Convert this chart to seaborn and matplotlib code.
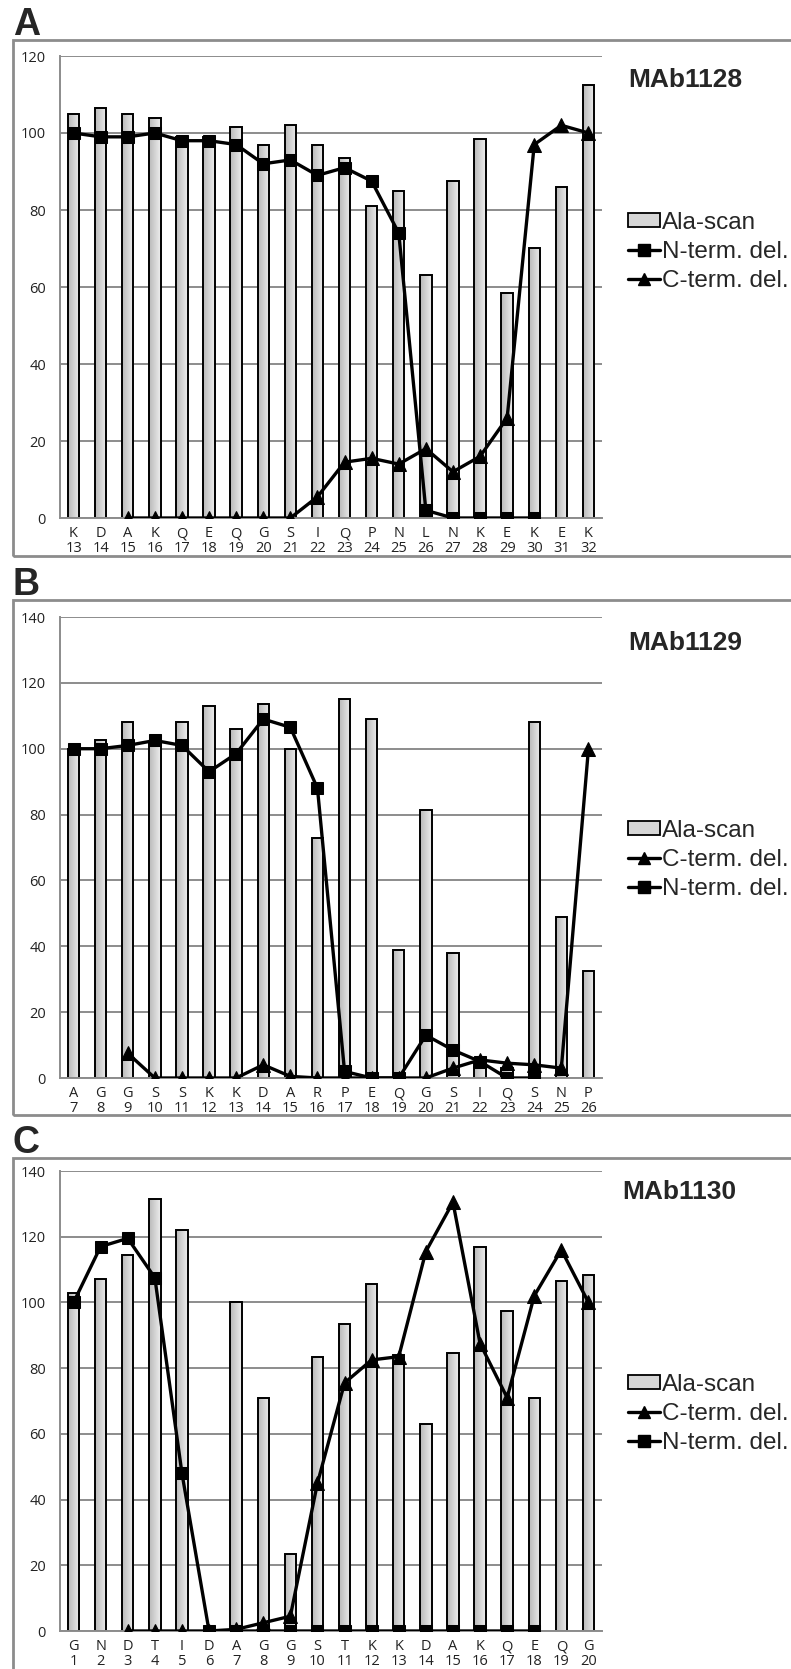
import numpy as np
import pandas as pd
import seaborn as sns
import matplotlib.pyplot as plt
from matplotlib.colors import LinearSegmentedColormap
from matplotlib.patches import Rectangle, Patch
from matplotlib.lines import Line2D

nan = np.nan

# panel A - MAb1128
a_res = ['K', 'D', 'A', 'K', 'Q', 'E', 'Q', 'G', 'S', 'I', 'Q', 'P', 'N', 'L', 'N', 'K', 'E', 'K', 'E', 'K']
a_num = ['13', '14', '15', '16', '17', '18', '19', '20', '21', '22', '23', '24', '25', '26', '27', '28', '29', '30', '31', '32']
a_ala = [105, 106.5, 105, 104, 99, 99, 101.5, 97, 102, 97, 93.5, 81, 85, 63, 87.5, 98.5, 58.5, 70, 86, 112.5]
a_nterm = [100, 99, 99, 100, 98, 98, 97, 92, 93, 89, 91, 87.5, 74, 2, 0, 0, 0, 0, nan, nan]
a_cterm = [nan, nan, 0, 0, 0, 0, 0, 0, 0, 5.5, 14.5, 15.5, 14, 18, 12, 16, 26, 97, 102, 100]

# panel B - MAb1129
b_res = ['A', 'G', 'G', 'S', 'S', 'K', 'K', 'D', 'A', 'R', 'P', 'E', 'Q', 'G', 'S', 'I', 'Q', 'S', 'N', 'P']
b_num = ['7', '8', '9', '10', '11', '12', '13', '14', '15', '16', '17', '18', '19', '20', '21', '22', '23', '24', '25', '26']
b_ala = [100, 102.5, 108, 102, 108, 113, 106, 113.5, 100, 73, 115, 109, 39, 81.5, 38, 5, 3, 108, 49, 32.5]
b_nterm = [100, 100, 101, 102.5, 101, 93, 98.5, 109, 106.5, 88, 2, 0, 0, 13, 8.5, 5, 0, 0, nan, nan]
b_cterm = [nan, nan, 7.5, 0, 0, 0, 0, 4, 0.5, 0, 0, 0, 0, 0, 3, 5.5, 4.5, 4, 3, 100]

# panel C - MAb1130
c_res = ['G', 'N', 'D', 'T', 'I', 'D', 'A', 'G', 'G', 'S', 'T', 'K', 'K', 'D', 'A', 'K', 'Q', 'E', 'Q', 'G']
c_num = ['1', '2', '3', '4', '5', '6', '7', '8', '9', '10', '11', '12', '13', '14', '15', '16', '17', '18', '19', '20']
c_ala = [103, 107, 114.5, 131.5, 122, 0, 100, 71, 23.5, 83.5, 93.5, 105.5, 84, 63, 84.5, 117, 97.5, 71, 106.5, 108.5]
c_nterm = [100, 117, 119.5, 107.5, 48, 0, 0, 0, 0, 0, 0, 0, 0, 0, 0, 0, 0, 0, nan, nan]
c_cterm = [nan, nan, 0, 0, 0, 0, 0.5, 2.5, 4.5, 45, 75.5, 82.5, 83.5, 115.5, 130.5, 87.5, 71, 102, 116, 100]

sns.set_style('white')
plt.rcParams['font.family'] = ['Liberation Sans', 'DejaVu Sans']

W, H = 791, 1669
fig = plt.figure(figsize=(W / 100, H / 100), dpi=100)

GRAY = '#8c8c8c'
grad_cmap = LinearSegmentedColormap.from_list('bar', ['#b9b9b9', '#eeeeee'])
grad = np.linspace(0, 1, 64).reshape(1, -1)


def fx(px):
    return px / W


def fy(py):
    return 1 - py / H


panels = [
    dict(letter='A', title='MAb1128', res=a_res, num=a_num, ala=a_ala, nterm=a_nterm, cterm=a_cterm,
         top=56, bot=518, ymax=120, box=(40, 556), let_y=35, title_xy=(628, 87), leg_y=252,
         order=['ala', 'nterm', 'cterm']),
    dict(letter='B', title='MAb1129', res=b_res, num=b_num, ala=b_ala, nterm=b_nterm, cterm=b_cterm,
         top=617, bot=1078, ymax=140, box=(600, 1115), let_y=595, title_xy=(628, 650), leg_y=860,
         order=['ala', 'cterm', 'nterm']),
    dict(letter='C', title='MAb1130', res=c_res, num=c_num, ala=c_ala, nterm=c_nterm, cterm=c_cterm,
         top=1171, bot=1631, ymax=140, box=(1158, 1720), let_y=1153, title_xy=(622, 1199), leg_y=1414,
         order=['ala', 'cterm', 'nterm']),
]

for p in panels:
    # grey frame round the panel
    fig.patches.append(Rectangle((fx(13), fy(p['box'][1])), 1.0, (p['box'][1] - p['box'][0]) / H,
                                 transform=fig.transFigure, fill=False, edgecolor=GRAY, linewidth=2))
    fig.text(fx(13), fy(p['let_y']), p['letter'], fontsize=27, fontweight='bold', va='baseline')
    fig.text(fx(p['title_xy'][0]), fy(p['title_xy'][1]), p['title'], fontsize=19, fontweight='bold',
             va='baseline')

    ax = fig.add_axes([fx(60), fy(p['bot']), 542 / W, (p['bot'] - p['top']) / H])
    labels = [r + '\n' + n for r, n in zip(p['res'], p['num'])]
    df = pd.DataFrame({'label': labels, 'ala': p['ala'], 'nterm': p['nterm'], 'cterm': p['cterm']})
    df['x'] = np.arange(len(df))

    sns.barplot(data=df, x='label', y='ala', order=labels, ax=ax, width=0.42, color='#dddddd',
                edgecolor='black', linewidth=1.4, saturation=1)
    for bar in list(ax.patches):
        x0, y0, w, h = bar.get_x(), bar.get_y(), bar.get_width(), bar.get_height()
        if h <= 0:
            continue
        ax.imshow(grad, extent=[x0, x0 + w, y0, y0 + h], aspect='auto', cmap=grad_cmap,
                  zorder=2, interpolation='bicubic')
        bar.set_facecolor('none')
        bar.set_zorder(2.2)

    sns.lineplot(data=df, x='x', y='nterm', ax=ax, color='black', linewidth=2.4, marker='s',
                 markersize=9, markeredgecolor='black', estimator=None, sort=False, zorder=4)
    sns.lineplot(data=df, x='x', y='cterm', ax=ax, color='black', linewidth=2.4, marker='^',
                 markersize=10.5, markeredgecolor='black', estimator=None, sort=False, zorder=4)

    ax.set_xlim(-0.5, len(df) - 0.5)
    ax.set_ylim(0, p['ymax'])
    ax.set_yticks(np.arange(0, p['ymax'] + 1, 20))
    ax.set_xticks(df['x'])
    ax.set_xticklabels(labels, fontsize=10.5, family='Open Sans', linespacing=0.95, color='#222222')
    ax.set_xticks(np.arange(-0.5, len(df)), minor=True)
    ax.tick_params(axis='x', which='major', length=0, pad=6)
    ax.tick_params(axis='x', which='minor', length=4, width=1, color=GRAY, direction='out')
    ax.tick_params(axis='y', length=4, width=1, color=GRAY, pad=6, labelsize=10.5, labelcolor='#222222')
    for t in ax.get_yticklabels():
        t.set_family('Open Sans')
    ax.set_xlabel('')
    ax.set_ylabel('')
    ax.yaxis.grid(True, color=GRAY, linewidth=1.4)
    ax.set_axisbelow(True)
    for s in ['top', 'right']:
        ax.spines[s].set_visible(False)
    for s in ['left', 'bottom']:
        ax.spines[s].set_color(GRAY)
        ax.spines[s].set_linewidth(1.4)

    handles = {
        'ala': (Patch(facecolor='#d6d6d6', edgecolor='black', linewidth=1.3), 'Ala-scan'),
        'nterm': (Line2D([], [], color='black', linewidth=2.4, marker='s', markersize=8), 'N-term. del.'),
        'cterm': (Line2D([], [], color='black', linewidth=2.4, marker='^', markersize=9), 'C-term. del.'),
    }
    hs = [handles[k][0] for k in p['order']]
    ls = [handles[k][1] for k in p['order']]
    fig.legend(hs, ls, loc='center left', bbox_to_anchor=(fx(628), fy(p['leg_y'])),
               bbox_transform=fig.transFigure, frameon=False, fontsize=17.5, borderpad=0,
               borderaxespad=0, handlelength=1.3, handletextpad=0.1, labelspacing=0.3,
               handleheight=0.55)

fig.savefig('out.png', dpi=100)
